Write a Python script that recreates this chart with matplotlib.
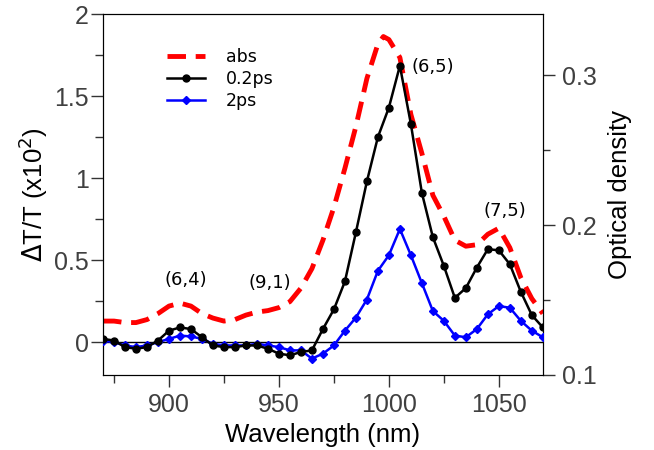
import matplotlib
matplotlib.use("Agg")
import matplotlib.pyplot as plt
from matplotlib.ticker import MultipleLocator

plt.rcParams['font.family'] = ['Liberation Sans', 'DejaVu Sans']

# pump-probe data, 5 nm steps
wl = [870, 875, 880, 885, 890, 895, 900, 905, 910, 915, 920, 925, 930, 935,
      940, 945, 950, 955, 960, 965, 970, 975, 980, 985, 990, 995, 1000, 1005,
      1010, 1015, 1020, 1025, 1030, 1035, 1040, 1045, 1050, 1055, 1060, 1065, 1070]
dt_02ps = [0.02, 0.01, -0.03, -0.04, -0.03, 0.01, 0.07, 0.09, 0.08, 0.03, -0.02,
           -0.03, -0.03, -0.02, -0.02, -0.04, -0.07, -0.08, -0.06, -0.05, 0.08,
           0.20, 0.37, 0.67, 0.98, 1.25, 1.43, 1.685, 1.33, 0.91, 0.64, 0.465,
           0.27, 0.33, 0.455, 0.567, 0.56, 0.475, 0.307, 0.165, 0.09]
dt_2ps = [0.01, 0.0, -0.02, -0.03, -0.02, 0.0, 0.02, 0.04, 0.035, 0.02, -0.01,
          -0.02, -0.02, -0.02, -0.01, -0.02, -0.03, -0.05, -0.05, -0.10, -0.07,
          -0.02, 0.07, 0.15, 0.26, 0.435, 0.53, 0.69, 0.53, 0.36, 0.19, 0.13,
          0.04, 0.03, 0.08, 0.17, 0.22, 0.21, 0.13, 0.07, 0.03]

# absorption spectrum (right axis)
abs_wl = [870, 875, 880, 885, 890, 895, 900, 905, 910, 915, 920, 925, 930, 935,
          940, 945, 950, 955, 960, 965, 970, 975, 980, 985, 990, 995, 997.5, 1000,
          1005, 1010, 1015, 1020, 1025, 1030, 1035, 1040, 1045, 1050, 1055, 1060,
          1065, 1070]
abs_od = [0.136, 0.136, 0.135, 0.135, 0.137, 0.141, 0.146, 0.148, 0.146, 0.141,
          0.138, 0.136, 0.137, 0.140, 0.142, 0.143, 0.145, 0.149, 0.158, 0.171,
          0.190, 0.212, 0.238, 0.266, 0.298, 0.321, 0.326, 0.324, 0.312, 0.274,
          0.248, 0.220, 0.206, 0.190, 0.186, 0.187, 0.194, 0.198, 0.185, 0.165,
          0.151, 0.141]

labels = ["(6,5)", "(7,5)", "(6,4)", "(9,1)"]
label_x = [1010.5, 1043, 898, 936]
label_y = [1.68, 0.80, 0.38, 0.36]

tick_gray = '#404040'

fig = plt.figure(figsize=(6.54, 4.5), dpi=100)
ax = fig.add_axes([0.1575, 0.1667, 0.6725, 0.802])
ax2 = ax.twinx()

ax.axhline(0, color='black', lw=1.0, zorder=1)
l2, = ax2.plot(abs_wl, abs_od, color='red', lw=3.5, dashes=(3.8, 2), label='abs')
l0, = ax.plot(wl, dt_02ps, color='black', lw=1.8, marker='o', ms=5, label='0.2ps', zorder=4)
l1, = ax.plot(wl, dt_2ps, color='blue', lw=1.8, marker='D', ms=4.5, label='2ps', zorder=3)
ax.set_zorder(ax2.get_zorder() + 1)
ax.patch.set_visible(False)

ax.set_xlim(870, 1070)
ax.set_ylim(-0.2, 2)
ax2.set_ylim(0.1, 0.341)

ax.xaxis.set_major_locator(MultipleLocator(50))
ax.xaxis.set_minor_locator(MultipleLocator(25))
ax.yaxis.set_major_locator(MultipleLocator(0.5))
ax.yaxis.set_minor_locator(MultipleLocator(0.25))
ax2.yaxis.set_major_locator(MultipleLocator(0.1))
ax2.yaxis.set_minor_locator(MultipleLocator(0.05))

ax.tick_params(axis='both', which='major', direction='out', length=8.5, width=1,
               labelsize=18, labelcolor=tick_gray, color='#333333')
ax.tick_params(axis='x', which='major', pad=4.5)
ax.tick_params(axis='y', which='major', pad=1.5)
ax.tick_params(axis='both', which='minor', direction='out', length=6, width=1, color='#333333')
ax.tick_params(axis='x', which='minor', length=5.5)
ax2.tick_params(axis='y', which='major', direction='out', length=8.5, width=1, pad=5,
                labelsize=18, labelcolor=tick_gray, color='#333333')
ax2.tick_params(axis='y', which='minor', direction='out', length=5, width=1, color='#333333')

ax.yaxis.set_major_formatter(plt.FuncFormatter(lambda v, p: ('%g' % v)))
ax2.yaxis.set_major_formatter(plt.FuncFormatter(lambda v, p: ('%g' % v)))

ax.set_xlabel("Wavelength (nm)", fontsize=18.5, labelpad=4)
ax.set_ylabel(r"$\Delta$T/T (x10$^2$)", fontsize=18.5, labelpad=3)
ax2.set_ylabel("Optical density", fontsize=18.5, labelpad=8)

for t, x, y in zip(labels, label_x, label_y):
    ax.text(x, y, t, fontsize=13, family='DejaVu Sans', va='center', ha='left')

leg = ax.legend(handles=[l2, l0, l1], loc='upper left', bbox_to_anchor=(0.11, 0.95),
                frameon=False, prop={'family': 'DejaVu Sans', 'size': 12.5},
                handlelength=2.2, handletextpad=1.2, labelspacing=0.25)

fig.savefig("out.png", dpi=100)
